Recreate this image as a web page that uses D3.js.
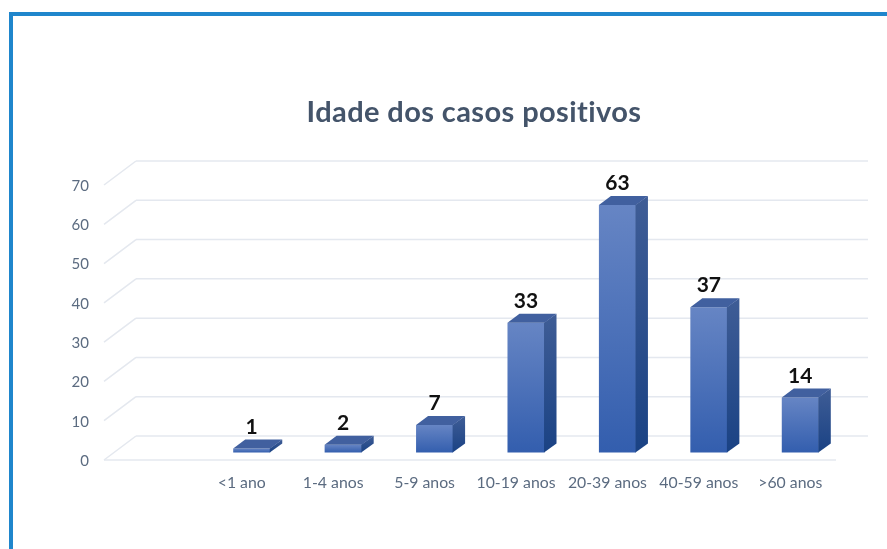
<!DOCTYPE html>
<html>
<head>
<meta charset="utf-8">
<script src="https://cdn.jsdelivr.net/npm/d3@7"></script>
<style>
  html, body { margin: 0; padding: 0; background: #fff; }
  svg { display: block; }
  text { font-family: Lato, "Open Sans", sans-serif; }
  .soft { filter: blur(0.45px); }
</style>
</head>
<body>
<div id="chart"></div>
<script>
var categories = ["<1 ano", "1-4 anos", "5-9 anos", "10-19 anos", "20-39 anos", "40-59 anos", ">60 anos"];
var values = [1, 2, 7, 33, 63, 37, 14];
var yTicks = [0, 10, 20, 30, 40, 50, 60, 70];
var title = "Idade dos casos positivos";

var width = 887, height = 549;

var svg = d3.select("#chart").append("svg")
    .attr("width", width)
    .attr("height", height);

// outer frame, only top and left are in the picture
svg.append("path")
    .attr("d", "M11,549V14H887")
    .attr("fill", "none")
    .attr("stroke", "#1f86cc")
    .attr("stroke-width", 4);

// everything else is slightly soft, like the reference
var chart = svg.append("g").attr("class", "soft");

// scales
var x = d3.scaleBand()
    .domain(categories)
    .range([206, 846])
    .paddingInner(0.595)
    .paddingOuter(0.2975);

var y = d3.scaleLinear()
    .domain([0, 70])
    .range([460, 185]);

// 3d offsets: side wall depth and the depth of a bar
var wallDx = 32, wallDy = -24, wallLeft = 104, wallWidth = 732;
var barDx = 12, barDy = -9, barLift = -7.5;

// gradients
var defs = svg.append("defs");
function gradient(id, top, bottom) {
    var g = defs.append("linearGradient")
        .attr("id", id)
        .attr("x1", 0).attr("y1", 0).attr("x2", 0).attr("y2", 1);
    g.append("stop").attr("offset", "0%").attr("stop-color", top);
    g.append("stop").attr("offset", "100%").attr("stop-color", bottom);
}
gradient("front", "#6685c4", "#335eae");
gradient("side", "#3f5d96", "#1a4284");

// grid: diagonal on the side wall + line on the back wall
var grid = chart.append("g")
    .attr("fill", "none")
    .attr("stroke", "#e4e8ef")
    .attr("stroke-width", 1.5);

grid.selectAll(".diag")
    .data(yTicks)
    .enter().append("line")
    .attr("class", "diag")
    .attr("x1", wallLeft)
    .attr("y1", function(d) { return y(d); })
    .attr("x2", wallLeft + wallDx)
    .attr("y2", function(d) { return y(d) + wallDy; });

grid.selectAll(".back")
    .data(yTicks)
    .enter().append("line")
    .attr("class", "back")
    .attr("x1", wallLeft + wallDx)
    .attr("y1", function(d) { return y(d) + wallDy; })
    .attr("x2", wallLeft + wallDx + wallWidth)
    .attr("y2", function(d) { return y(d) + wallDy; });

// floor front edge
grid.append("line")
    .attr("x1", wallLeft)
    .attr("y1", y(0))
    .attr("x2", wallLeft + wallWidth)
    .attr("y2", y(0));

// y labels
var yAxis = d3.axisLeft(y).tickValues(yTicks).tickSize(0).tickPadding(0);
var yG = chart.append("g")
    .attr("transform", "translate(89,0.5)")
    .call(yAxis);
yG.select(".domain").remove();
yG.selectAll("text")
    .attr("fill", "#5b6b80")
    .style("font-size", "15px");

// x labels
var xAxis = d3.axisBottom(x).tickSize(0).tickPadding(0);
var xG = chart.append("g")
    .attr("transform", "translate(-10,477)")
    .call(xAxis);
xG.select(".domain").remove();
xG.selectAll("text")
    .attr("fill", "#5b6b80")
    .style("font-size", "15.8px");

// bars
var bars = chart.selectAll(".bar")
    .data(categories.map(function(c, i) { return {cat: c, val: values[i]}; }))
    .enter().append("g")
    .attr("class", "bar");

function poly(pts) {
    return d3.line()(pts) + "Z";
}

bars.append("path")
    .attr("fill", "url(#front)")
    .attr("d", function(d) {
        var l = x(d.cat), r = l + x.bandwidth(), t = y(d.val) + barLift, b = y(0) + barLift;
        return poly([[l, t], [r, t], [r, b], [l, b]]);
    });

bars.append("path")
    .attr("fill", "url(#side)")
    .attr("d", function(d) {
        var r = x(d.cat) + x.bandwidth(), t = y(d.val) + barLift, b = y(0) + barLift;
        return poly([[r - 0.5, t], [r + barDx, t + barDy], [r + barDx, b + barDy], [r - 0.5, b]]);
    });

bars.append("path")
    .attr("fill", "#41609f")
    .attr("d", function(d) {
        var l = x(d.cat), r = l + x.bandwidth(), t = y(d.val) + barLift;
        return poly([[l, t], [r, t], [r + barDx, t + barDy], [l + barDx, t + barDy]]);
    });

// value labels
bars.append("text")
    .attr("x", function(d) { return x(d.cat) + x.bandwidth() / 2; })
    .attr("y", function(d) { return y(d.val) + barLift - 15; })
    .attr("text-anchor", "middle")
    .attr("fill", "#111")
    .style("font-size", "21px")
    .style("font-weight", 700)
    .text(function(d) { return d.val; });

// title
chart.append("text")
    .attr("x", 474)
    .attr("y", 122)
    .attr("text-anchor", "middle")
    .attr("fill", "#44546a")
    .style("font-size", "29px")
    .style("font-weight", 700)
    .style("letter-spacing", "0.4px")
    .text(title);
</script>
</body>
</html>
